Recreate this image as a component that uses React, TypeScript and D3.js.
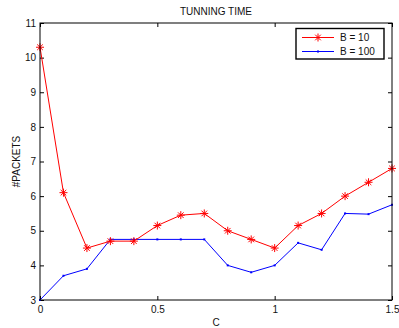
import React, { useRef, useEffect } from "react";
import * as d3 from "d3";

// C values shared by both series
const cValues = [0, 0.1, 0.2, 0.3, 0.4, 0.5, 0.6, 0.7, 0.8, 0.9, 1.0, 1.1, 1.2, 1.3, 1.4, 1.5];
const packetsB10 = [10.3, 6.1, 4.5, 4.7, 4.7, 5.15, 5.45, 5.5, 5.0, 4.75, 4.5, 5.15, 5.5, 6.0, 6.4, 6.8];
const packetsB100 = [3.0, 3.7, 3.9, 4.75, 4.75, 4.75, 4.75, 4.75, 4.0, 3.8, 4.0, 4.65, 4.45, 5.5, 5.48, 5.75];
const xTicks = [0, 0.5, 1, 1.5];
const yTicks = [3, 4, 5, 6, 7, 8, 9, 10, 11];
const seriesNames = ["B = 10", "B = 100"];

const W = 399;
const H = 328;
const margin = { top: 23, right: 7, bottom: 28, left: 40 };
const FONT = "'Liberation Sans', Arial, Helvetica, sans-serif";

const asterisk = (r: number) =>
  `M${-r},0L${r},0M0,${-r}L0,${r}M${-r * 0.7},${-r * 0.7}L${r * 0.7},${r * 0.7}M${-r * 0.7},${r * 0.7}L${r * 0.7},${-r * 0.7}`;

const TunningChart: React.FC = () => {
  const svgRef = useRef<SVGSVGElement>(null);

  useEffect(() => {
    if (!svgRef.current) return;
    const svg = d3.select(svgRef.current);
    svg.selectAll("*").remove();

    const x = d3.scaleLinear().domain([0, 1.5]).range([margin.left, W - margin.right]);
    const y = d3.scaleLinear().domain([3, 11]).range([H - margin.bottom, margin.top]);

    const b10 = cValues.map((c, i) => ({ c, v: packetsB10[i] }));
    const b100 = cValues.map((c, i) => ({ c, v: packetsB100[i] }));

    const line = d3
      .line<{ c: number; v: number }>()
      .x((d) => x(d.c))
      .y((d) => y(d.v));

    // axes with inward ticks, mirrored on top/right like matlab
    const styleAxis = (g: any) => {
      g.select(".domain").remove();
      g.selectAll("line").attr("stroke", "#000");
      g.selectAll("text").attr("fill", "#111").attr("font-family", FONT).attr("font-size", 10);
    };

    svg
      .append("g")
      .attr("transform", `translate(0,${H - margin.bottom})`)
      .call(d3.axisBottom(x).tickValues(xTicks).tickFormat(d3.format("")).tickSizeInner(-4).tickSizeOuter(0).tickPadding(6))
      .call(styleAxis);
    svg
      .append("g")
      .attr("transform", `translate(${margin.left},0)`)
      .call(d3.axisLeft(y).tickValues(yTicks).tickSizeInner(-4).tickSizeOuter(0).tickPadding(4))
      .call(styleAxis);
    svg
      .append("g")
      .attr("transform", `translate(0,${margin.top})`)
      .call(d3.axisTop(x).tickValues(xTicks).tickFormat(() => "").tickSizeInner(-4).tickSizeOuter(0))
      .call(styleAxis);
    svg
      .append("g")
      .attr("transform", `translate(${W - margin.right},0)`)
      .call(d3.axisRight(y).tickValues(yTicks).tickFormat(() => "").tickSizeInner(-4).tickSizeOuter(0))
      .call(styleAxis);

    // B = 100 series
    svg
      .append("path")
      .datum(b100)
      .attr("fill", "none")
      .attr("stroke", "#0000ff")
      .attr("stroke-width", 1)
      .attr("d", line);
    svg
      .selectAll(".dot100")
      .data(b100)
      .enter()
      .append("rect")
      .attr("x", (d) => x(d.c) - 1)
      .attr("y", (d) => y(d.v) - 1)
      .attr("width", 2)
      .attr("height", 2)
      .attr("fill", "#0000ff");

    // B = 10 series
    svg
      .append("path")
      .datum(b10)
      .attr("fill", "none")
      .attr("stroke", "#ff0000")
      .attr("stroke-width", 1)
      .attr("d", line);
    svg
      .selectAll(".star10")
      .data(b10)
      .enter()
      .append("path")
      .attr("transform", (d) => `translate(${x(d.c)},${y(d.v)})`)
      .attr("d", asterisk(4))
      .attr("stroke", "#ff0000")
      .attr("stroke-width", 1)
      .attr("fill", "none");

    // frame
    svg
      .append("rect")
      .attr("x", margin.left)
      .attr("y", margin.top)
      .attr("width", W - margin.left - margin.right)
      .attr("height", H - margin.top - margin.bottom)
      .attr("fill", "none")
      .attr("stroke", "#000")
      .attr("stroke-width", 1);

    // title and labels
    const midX = (margin.left + W - margin.right) / 2;
    svg
      .append("text")
      .attr("x", midX)
      .attr("y", 15)
      .attr("text-anchor", "middle")
      .attr("font-family", FONT)
      .attr("font-size", 10)
      .attr("fill", "#111")
      .text("TUNNING TIME");
    svg
      .append("text")
      .attr("x", midX)
      .attr("y", 326)
      .attr("text-anchor", "middle")
      .attr("font-family", FONT)
      .attr("font-size", 10)
      .attr("fill", "#111")
      .text("C");
    svg
      .append("text")
      .attr("transform", `translate(19.5,${(margin.top + H - margin.bottom) / 2}) rotate(-90)`)
      .attr("text-anchor", "middle")
      .attr("font-family", FONT)
      .attr("font-size", 10)
      .attr("fill", "#111")
      .text("#PACKETS");

    // legend
    const lg = svg.append("g");
    lg.append("rect")
      .attr("x", 296)
      .attr("y", 28.5)
      .attr("width", 88)
      .attr("height", 30.5)
      .attr("fill", "#fff")
      .attr("stroke", "#000")
      .attr("stroke-width", 1.4);
    const colors = ["#ff0000", "#0000ff"];
    seriesNames.forEach((name, i) => {
      const ly = 37.5 + i * 14;
      lg.append("line")
        .attr("x1", 302)
        .attr("x2", 334)
        .attr("y1", ly)
        .attr("y2", ly)
        .attr("stroke", colors[i])
        .attr("stroke-width", 1);
      if (i === 0) {
        lg.append("path")
          .attr("transform", `translate(318,${ly})`)
          .attr("d", asterisk(4))
          .attr("stroke", colors[i])
          .attr("fill", "none");
      } else {
        lg.append("rect")
          .attr("x", 317)
          .attr("y", ly - 1)
          .attr("width", 2)
          .attr("height", 2)
          .attr("fill", colors[i]);
      }
      lg.append("text")
        .attr("x", 340)
        .attr("y", ly)
        .attr("dy", "0.35em")
        .attr("font-family", FONT)
        .attr("font-size", 10)
        .attr("fill", "#111")
        .text(name);
    });
  }, []);

  return (
    <svg
      ref={svgRef}
      width={W}
      height={H}
      style={{ position: "absolute", left: 0, top: 0, background: "#fff" }}
    ></svg>
  );
};

export default function App() {
  return <TunningChart />;
}
